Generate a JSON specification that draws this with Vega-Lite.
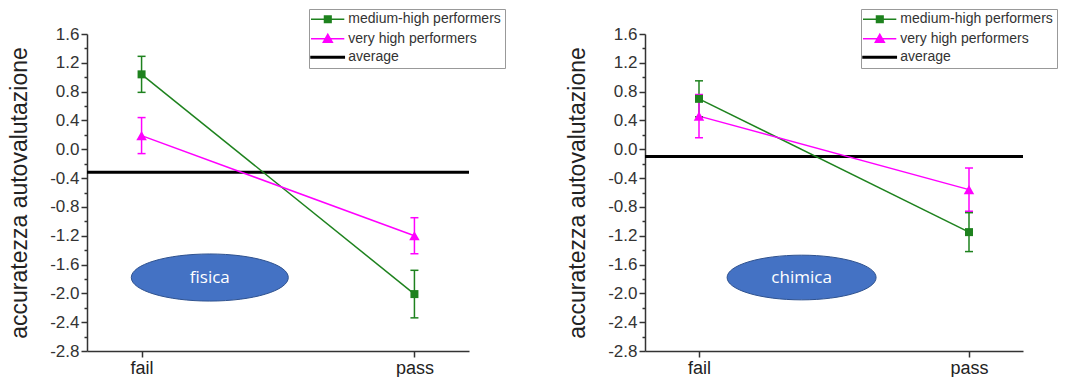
{
  "$schema": "https://vega.github.io/schema/vega-lite/v6.json",
  "padding": {"left": 8, "top": 8, "right": 0, "bottom": 0},
  "datasets": {
    "vals": [
      {"panel": "fisica", "series": "medium-high performers", "cond": 0, "val": 1.04, "lo": 0.79, "hi": 1.29},
      {"panel": "fisica", "series": "medium-high performers", "cond": 1, "val": -2.01, "lo": -2.34, "hi": -1.68},
      {"panel": "fisica", "series": "very high performers", "cond": 0, "val": 0.19, "lo": -0.06, "hi": 0.44},
      {"panel": "fisica", "series": "very high performers", "cond": 1, "val": -1.2, "lo": -1.45, "hi": -0.95},
      {"panel": "fisica", "series": "average", "val": -0.32},
      {"panel": "chimica", "series": "medium-high performers", "cond": 0, "val": 0.7, "lo": 0.45, "hi": 0.95},
      {"panel": "chimica", "series": "medium-high performers", "cond": 1, "val": -1.15, "lo": -1.42, "hi": -0.88},
      {"panel": "chimica", "series": "very high performers", "cond": 0, "val": 0.46, "lo": 0.16, "hi": 0.76},
      {"panel": "chimica", "series": "very high performers", "cond": 1, "val": -0.56, "lo": -0.86, "hi": -0.26},
      {"panel": "chimica", "series": "average", "val": -0.1}
    ],
    "notes": [
      {"panel": "fisica", "label": "fisica", "cond": 0.25, "val": -1.78},
      {"panel": "chimica", "label": "chimica", "cond": 0.38, "val": -1.78}
    ]
  },
  "spacing": 60,
  "resolve": {"legend": {"color": "independent"}},
  "hconcat": [
    {
      "width": 382,
      "height": 317,
      "data": {"name": "vals"},
      "transform": [{"filter": "datum.panel === 'fisica'"}],
      "encoding": {
        "y": {
          "field": "val", "type": "quantitative",
          "scale": {"domain": [-2.8, 1.6], "nice": false, "zero": false},
          "axis": {
            "title": "accuratezza autovalutazione",
            "values": [-2.8, -2.6, -2.4, -2.2, -2.0, -1.8, -1.6, -1.4, -1.2, -1.0, -0.8, -0.6, -0.4, -0.2, 0, 0.2, 0.4, 0.6, 0.8, 1.0, 1.2, 1.4, 1.6],
            "labelExpr": "round(datum.value*10) % 4 === 0 ? replace(format(datum.value, '.1f'), '−', '-') : ''",
            "tickSize": {"condition": {"test": "round(datum.value*10) % 4 === 0", "value": 6}, "value": 3},
            "labelFontSize": 17, "titleFontSize": 23, "labelPadding": 2, "titlePadding": 18,
            "labelColor": "#333", "titleColor": "#222", "titleFontWeight": "normal",
            "domainWidth": 1.5, "tickWidth": 1.5
          }
        },
        "color": {
          "field": "series", "type": "nominal",
          "scale": {"domain": ["medium-high performers", "very high performers", "average"], "range": ["#1e821e", "#ff00ff", "#000000"]},
          "legend": {
            "orient": "none", "legendX": 222, "legendY": -25, "title": null,
            "padding": 3.3, "strokeColor": "#999", "fillColor": "white",
            "labelFont": "Liberation Sans", "labelFontSize": 14, "labelColor": "#333",
            "symbolSize": 100, "symbolStrokeWidth": 1.5, "rowPadding": 4.5, "labelOffset": 22,
            "encode": {"symbols": {"update": {
              "shape": {"signal": "datum.value === 'average' ? 'M-1.66,-0.15H5V0.15H-1.66Z' : datum.value === 'medium-high performers' ? 'M-1.66,0H5M1.04,-0.66H2.36V0.66H1.04Z' : 'M-1.66,0H5M1.7,-0.9L2.6,0.7H0.8Z'"},
              "fill": {"signal": "datum.value === 'average' ? '#000000' : datum.value === 'medium-high performers' ? '#1e821e' : '#ff00ff'"},
              "stroke": {"signal": "datum.value === 'average' ? '#000000' : datum.value === 'medium-high performers' ? '#1e821e' : '#ff00ff'"},
              "opacity": {"value": 1}
            }}}
          }
        }
      },
      "layer": [
        {
          "transform": [{"filter": "datum.series === 'average'"}],
          "mark": {"type": "rule", "strokeWidth": 3}
        },
        {
          "transform": [{"filter": "datum.series !== 'average'"}],
          "mark": {"type": "line", "strokeWidth": 1.5},
          "encoding": {
            "x": {"field": "cond", "type": "quantitative", "scale": {"domain": [-0.2, 1.2], "nice": false, "zero": false},
              "axis": {"title": null, "values": [0, 1], "labelExpr": "datum.value === 0 ? 'fail' : 'pass'", "labelFontSize": 18, "tickSize": 6, "labelPadding": 2, "domainWidth": 1.5, "tickWidth": 1.5, "labelColor": "#222"}}
          }
        },
        {
          "transform": [{"filter": "datum.series !== 'average'"}],
          "mark": {"type": "rule", "strokeWidth": 1.5},
          "encoding": {
            "x": {"field": "cond", "type": "quantitative", "scale": {"domain": [-0.2, 1.2]}},
            "y": {"field": "lo", "type": "quantitative", "scale": {"domain": [-2.8, 1.6], "nice": false, "zero": false}},
            "y2": {"field": "hi"}
          }
        },
        {
          "transform": [{"filter": "datum.series !== 'average'"}],
          "mark": {"type": "tick", "orient": "horizontal", "size": 8, "thickness": 1.5, "opacity": 1},
          "encoding": {
            "x": {"field": "cond", "type": "quantitative", "scale": {"domain": [-0.2, 1.2]}},
            "y": {"field": "lo", "type": "quantitative", "scale": {"domain": [-2.8, 1.6], "nice": false, "zero": false}}
          }
        },
        {
          "transform": [{"filter": "datum.series !== 'average'"}],
          "mark": {"type": "tick", "orient": "horizontal", "size": 8, "thickness": 1.5, "opacity": 1},
          "encoding": {
            "x": {"field": "cond", "type": "quantitative", "scale": {"domain": [-0.2, 1.2]}},
            "y": {"field": "hi", "type": "quantitative", "scale": {"domain": [-2.8, 1.6], "nice": false, "zero": false}}
          }
        },
        {
          "transform": [{"filter": "datum.series === 'medium-high performers'"}],
          "mark": {"type": "point", "filled": true, "opacity": 1, "size": 64, "shape": "square"},
          "encoding": {
            "x": {"field": "cond", "type": "quantitative", "scale": {"domain": [-0.2, 1.2]}}
          }
        },
        {
          "transform": [{"filter": "datum.series === 'very high performers'"}],
          "mark": {"type": "point", "filled": true, "opacity": 1, "size": 110, "shape": "triangle-up"},
          "encoding": {
            "x": {"field": "cond", "type": "quantitative", "scale": {"domain": [-0.2, 1.2]}}
          }
        },
        {
          "data": {"name": "notes"},
          "transform": [{"filter": "datum.panel === 'fisica'"}],
          "mark": {"type": "point", "filled": true, "opacity": 1, "size": 24649, "stroke": "#2f528f", "strokeWidth": 1,
            "shape": "M-1,0C-1,-0.166,-0.552,-0.3,0,-0.3C0.552,-0.3,1,-0.166,1,0C1,0.166,0.552,0.3,0,0.3C-0.552,0.3,-1,0.166,-1,0Z"},
          "encoding": {
            "x": {"field": "cond", "type": "quantitative", "scale": {"domain": [-0.2, 1.2]}},
            "color": {"value": "#4472c4"}
          }
        },
        {
          "data": {"name": "notes"},
          "transform": [{"filter": "datum.panel === 'fisica'"}],
          "mark": {"type": "text", "font": "Open Sans", "fontSize": 17, "baseline": "middle", "align": "center"},
          "encoding": {
            "x": {"field": "cond", "type": "quantitative", "scale": {"domain": [-0.2, 1.2]}},
            "text": {"field": "label"},
            "color": {"value": "#ffffff"}
          }
        }
      ]
    },
    {
      "width": 378,
      "height": 317,
      "data": {"name": "vals"},
      "transform": [{"filter": "datum.panel === 'chimica'"}],
      "encoding": {
        "y": {
          "field": "val", "type": "quantitative",
          "scale": {"domain": [-2.8, 1.6], "nice": false, "zero": false},
          "axis": {
            "title": "accuratezza autovalutazione",
            "values": [-2.8, -2.6, -2.4, -2.2, -2.0, -1.8, -1.6, -1.4, -1.2, -1.0, -0.8, -0.6, -0.4, -0.2, 0, 0.2, 0.4, 0.6, 0.8, 1.0, 1.2, 1.4, 1.6],
            "labelExpr": "round(datum.value*10) % 4 === 0 ? replace(format(datum.value, '.1f'), '−', '-') : ''",
            "tickSize": {"condition": {"test": "round(datum.value*10) % 4 === 0", "value": 6}, "value": 3},
            "labelFontSize": 17, "titleFontSize": 23, "labelPadding": 2, "titlePadding": 18,
            "labelColor": "#333", "titleColor": "#222", "titleFontWeight": "normal",
            "domainWidth": 1.5, "tickWidth": 1.5
          }
        },
        "color": {
          "field": "series", "type": "nominal",
          "scale": {"domain": ["medium-high performers", "very high performers", "average"], "range": ["#1e821e", "#ff00ff", "#000000"]},
          "legend": {
            "orient": "none", "legendX": 216, "legendY": -25, "title": null,
            "padding": 3.3, "strokeColor": "#999", "fillColor": "white",
            "labelFont": "Liberation Sans", "labelFontSize": 14, "labelColor": "#333",
            "symbolSize": 100, "symbolStrokeWidth": 1.5, "rowPadding": 4.5, "labelOffset": 22,
            "encode": {"symbols": {"update": {
              "shape": {"signal": "datum.value === 'average' ? 'M-1.66,-0.15H5V0.15H-1.66Z' : datum.value === 'medium-high performers' ? 'M-1.66,0H5M1.04,-0.66H2.36V0.66H1.04Z' : 'M-1.66,0H5M1.7,-0.9L2.6,0.7H0.8Z'"},
              "fill": {"signal": "datum.value === 'average' ? '#000000' : datum.value === 'medium-high performers' ? '#1e821e' : '#ff00ff'"},
              "stroke": {"signal": "datum.value === 'average' ? '#000000' : datum.value === 'medium-high performers' ? '#1e821e' : '#ff00ff'"},
              "opacity": {"value": 1}
            }}}
          }
        }
      },
      "layer": [
        {
          "transform": [{"filter": "datum.series === 'average'"}],
          "mark": {"type": "rule", "strokeWidth": 3}
        },
        {
          "transform": [{"filter": "datum.series !== 'average'"}],
          "mark": {"type": "line", "strokeWidth": 1.5},
          "encoding": {
            "x": {"field": "cond", "type": "quantitative", "scale": {"domain": [-0.2, 1.2], "nice": false, "zero": false},
              "axis": {"title": null, "values": [0, 1], "labelExpr": "datum.value === 0 ? 'fail' : 'pass'", "labelFontSize": 18, "tickSize": 6, "labelPadding": 2, "domainWidth": 1.5, "tickWidth": 1.5, "labelColor": "#222"}}
          }
        },
        {
          "transform": [{"filter": "datum.series !== 'average'"}],
          "mark": {"type": "rule", "strokeWidth": 1.5},
          "encoding": {
            "x": {"field": "cond", "type": "quantitative", "scale": {"domain": [-0.2, 1.2]}},
            "y": {"field": "lo", "type": "quantitative", "scale": {"domain": [-2.8, 1.6], "nice": false, "zero": false}},
            "y2": {"field": "hi"}
          }
        },
        {
          "transform": [{"filter": "datum.series !== 'average'"}],
          "mark": {"type": "tick", "orient": "horizontal", "size": 8, "thickness": 1.5, "opacity": 1},
          "encoding": {
            "x": {"field": "cond", "type": "quantitative", "scale": {"domain": [-0.2, 1.2]}},
            "y": {"field": "lo", "type": "quantitative", "scale": {"domain": [-2.8, 1.6], "nice": false, "zero": false}}
          }
        },
        {
          "transform": [{"filter": "datum.series !== 'average'"}],
          "mark": {"type": "tick", "orient": "horizontal", "size": 8, "thickness": 1.5, "opacity": 1},
          "encoding": {
            "x": {"field": "cond", "type": "quantitative", "scale": {"domain": [-0.2, 1.2]}},
            "y": {"field": "hi", "type": "quantitative", "scale": {"domain": [-2.8, 1.6], "nice": false, "zero": false}}
          }
        },
        {
          "transform": [{"filter": "datum.series === 'medium-high performers'"}],
          "mark": {"type": "point", "filled": true, "opacity": 1, "size": 64, "shape": "square"},
          "encoding": {
            "x": {"field": "cond", "type": "quantitative", "scale": {"domain": [-0.2, 1.2]}}
          }
        },
        {
          "transform": [{"filter": "datum.series === 'very high performers'"}],
          "mark": {"type": "point", "filled": true, "opacity": 1, "size": 110, "shape": "triangle-up"},
          "encoding": {
            "x": {"field": "cond", "type": "quantitative", "scale": {"domain": [-0.2, 1.2]}}
          }
        },
        {
          "data": {"name": "notes"},
          "transform": [{"filter": "datum.panel === 'chimica'"}],
          "mark": {"type": "point", "filled": true, "opacity": 1, "size": 22201, "stroke": "#2f528f", "strokeWidth": 1,
            "shape": "M-1,0C-1,-0.166,-0.552,-0.3,0,-0.3C0.552,-0.3,1,-0.166,1,0C1,0.166,0.552,0.3,0,0.3C-0.552,0.3,-1,0.166,-1,0Z"},
          "encoding": {
            "x": {"field": "cond", "type": "quantitative", "scale": {"domain": [-0.2, 1.2]}},
            "color": {"value": "#4472c4"}
          }
        },
        {
          "data": {"name": "notes"},
          "transform": [{"filter": "datum.panel === 'chimica'"}],
          "mark": {"type": "text", "font": "Open Sans", "fontSize": 17, "baseline": "middle", "align": "center"},
          "encoding": {
            "x": {"field": "cond", "type": "quantitative", "scale": {"domain": [-0.2, 1.2]}},
            "text": {"field": "label"},
            "color": {"value": "#ffffff"}
          }
        }
      ]
    }
  ],
  "config": {
    "view": {"stroke": null},
    "axis": {"grid": false, "domainColor": "#333", "tickColor": "#333", "labelFont": "Liberation Sans", "titleFont": "Liberation Sans", "labelFlush": false, "labelOverlap": false}
  }
}
